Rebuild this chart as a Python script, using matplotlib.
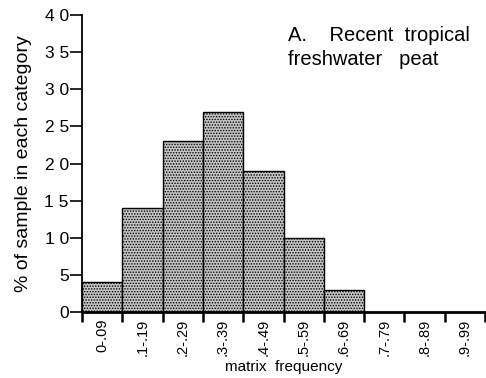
import matplotlib
matplotlib.use("Agg")
import matplotlib.pyplot as plt
import matplotlib.transforms as mtransforms
import numpy as np

categories = ["0-.09", ".1-.19", ".2-.29", ".3-.39", ".4-.49", ".5-.59", ".6-.69", ".7-.79", ".8-.89", ".9-.99"]
values = [4, 14, 23, 27, 19, 10, 3, 0, 0, 0]
yticks = [0, 5, 10, 15, 20, 25, 30, 35, 40]
ytick_labels = ["0", "5", "1 0", "1 5", "2 0", "2 5", "3 0", "3 5", "4 0"]

plt.rcParams['font.family'] = ['Liberation Sans', 'DejaVu Sans']
plt.rcParams['hatch.color'] = '#5a5a5a'
plt.rcParams['hatch.linewidth'] = 0.7

fig = plt.figure(figsize=(4.86, 3.78), dpi=100)
ax = fig.add_axes([82/486, 1-312/378, 403/486, (312-15)/378])

x = np.arange(len(categories))
ax.bar(x + 0.5, values, width=1.0, color='#c4c4c4', edgecolor='black', linewidth=1.0, hatch='......')

ax.set_xlim(0, 10)
ax.set_ylim(0, 40)
ax.set_xticks(np.arange(11))
ax.set_xticklabels([])
ax.set_xticks(x + 0.5, minor=True)
ax.set_xticklabels(categories, minor=True, rotation=90, fontsize=10.5)
offset = mtransforms.ScaledTranslation(4/100, 0, fig.dpi_scale_trans)
for lab in ax.get_xticklabels(minor=True):
    lab.set_transform(lab.get_transform() + offset)
ax.tick_params(axis='x', which='major', direction='out', length=7, width=1.8)
ax.tick_params(axis='x', which='minor', length=0, pad=5)
ax.set_yticks(yticks)
ax.set_yticklabels(ytick_labels, fontsize=12.5)
ax.tick_params(axis='y', direction='out', length=8.5, width=1.2, pad=1)

for s in ['top', 'right']:
    ax.spines[s].set_visible(False)
ax.spines['left'].set_linewidth(1.3)
ax.spines['bottom'].set_linewidth(2.0)

ax.set_ylabel("% of sample in each category", fontsize=14, labelpad=9)
ax.set_xlabel("matrix  frequency", fontsize=11, labelpad=3)

ax.text(288/486, 1-26/378, "A.    Recent  tropical\nfreshwater   peat", transform=fig.transFigure,
        fontsize=14.5, va='top', ha='left', linespacing=1.35)

fig.savefig("out.png", dpi=100)
